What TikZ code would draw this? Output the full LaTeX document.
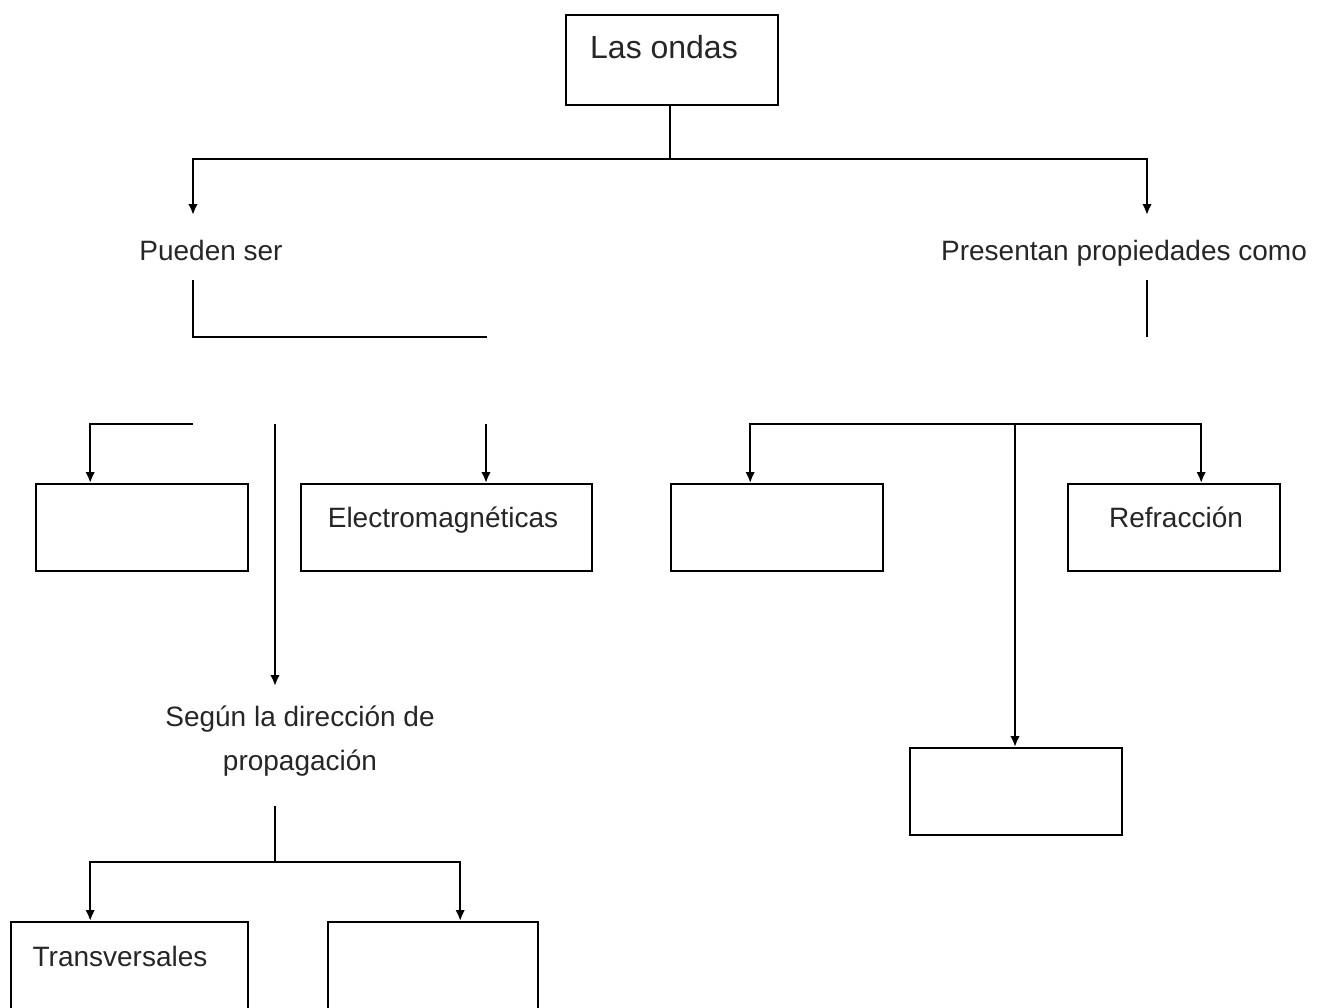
\documentclass[tikz,border=0pt]{standalone}
\usepackage{fontspec}
\setmainfont{Liberation Sans}
\usetikzlibrary{arrows.meta}
\tikzset{
  box/.style={draw, line width=1.2pt, inner sep=0pt, anchor=north west, minimum height=43.5pt},
  lbl/.style={inner sep=0pt, text=black!85, font=\fontsize{14}{22}\selectfont, text height=10pt, text depth=3pt, yshift=-1.5pt},
  conn/.style={line width=1.15pt},
  arr/.style={conn, -{Latex[length=5.5pt,width=4.8pt]}}
}
\begin{document}
\begin{tikzpicture}[x=0.5pt,y=-0.5pt]
\useasboundingbox (0,0) rectangle (1331,1007);
\fill[white] (0,0) rectangle (1331,1007);
\clip (0,0) rectangle (1331,1007);
% boxes
\node[box, minimum width=106pt, minimum height=45pt] (ondas) at (565,14) {};
\node[box, minimum width=106pt] (b1) at (35,483) {};
\node[box, minimum width=145.5pt] (em) at (300,483) {};
\node[box, minimum width=106pt] (b3) at (670,483) {};
\node[box, minimum width=106pt] (refr) at (1067,483) {};
\node[box, minimum width=106pt] (b5) at (909,747) {};
\node[box, minimum width=118.5pt, minimum height=60pt] (trans) at (10,921) {};
\node[box, minimum width=105pt, minimum height=60pt] (b7) at (327,921) {};
% texts
\node[lbl, font=\fontsize{16}{20}\selectfont, text height=11.5pt, text depth=3.5pt] (tondas) at (664,47) {Las ondas};
\node[lbl] (pueden) at (211,250) {Pueden ser};
\node[lbl] (presentan) at (1124,250) {Presentan propiedades como};
\node[lbl, align=center, text height=, text depth=] (segun) at (300,738) {Según la dirección de\\propagación};
\node[lbl] (tem) at (443,517) {Electromagnéticas};
\node[lbl] (trefr) at (1176,517) {Refracción};
\node[lbl] (ttrans) at (120,956) {Transversales};
% junction coordinates
\coordinate (j1) at (670,159);
\coordinate (aL) at (193,215);
\coordinate (aR) at (1147,215);
\coordinate (p1) at (193,280);
\coordinate (p2) at (487,337);
\coordinate (q1) at (1147,280);
\coordinate (q2) at (1147,337);
\coordinate (l1) at (193,424);
\coordinate (v1) at (275,424);
\coordinate (v2) at (275,686);
\coordinate (e1) at (486,424);
\coordinate (r1) at (1015,424);
\coordinate (s1) at (275,806);
\coordinate (s2) at (275,862);
% connectors
\draw[conn] (j1 |- ondas.south) -- (j1);
\draw[arr] (j1) -| (aL);
\draw[arr] (j1) -| (aR);
\draw[conn] (p1) |- (p2);
\draw[conn] (q1) -- (q2);
\draw[arr] (l1) -| ([xshift=-26pt]b1.north);
\draw[arr] (v1) -- (v2);
\draw[arr] (e1) -- (e1 |- em.north);
\draw[arr] (r1) -| ([xshift=-13.5pt]b3.north);
\draw[arr] (r1) -| ([xshift=13.5pt]refr.north);
\draw[arr] (r1) -- (r1 |- b5.north);
\draw[conn] (s1) -- (s2);
\draw[arr] (s2) -| ([xshift=-19.75pt]trans.north);
\draw[arr] (s2) -| ([xshift=13.5pt]b7.north);
\end{tikzpicture}
\end{document}
